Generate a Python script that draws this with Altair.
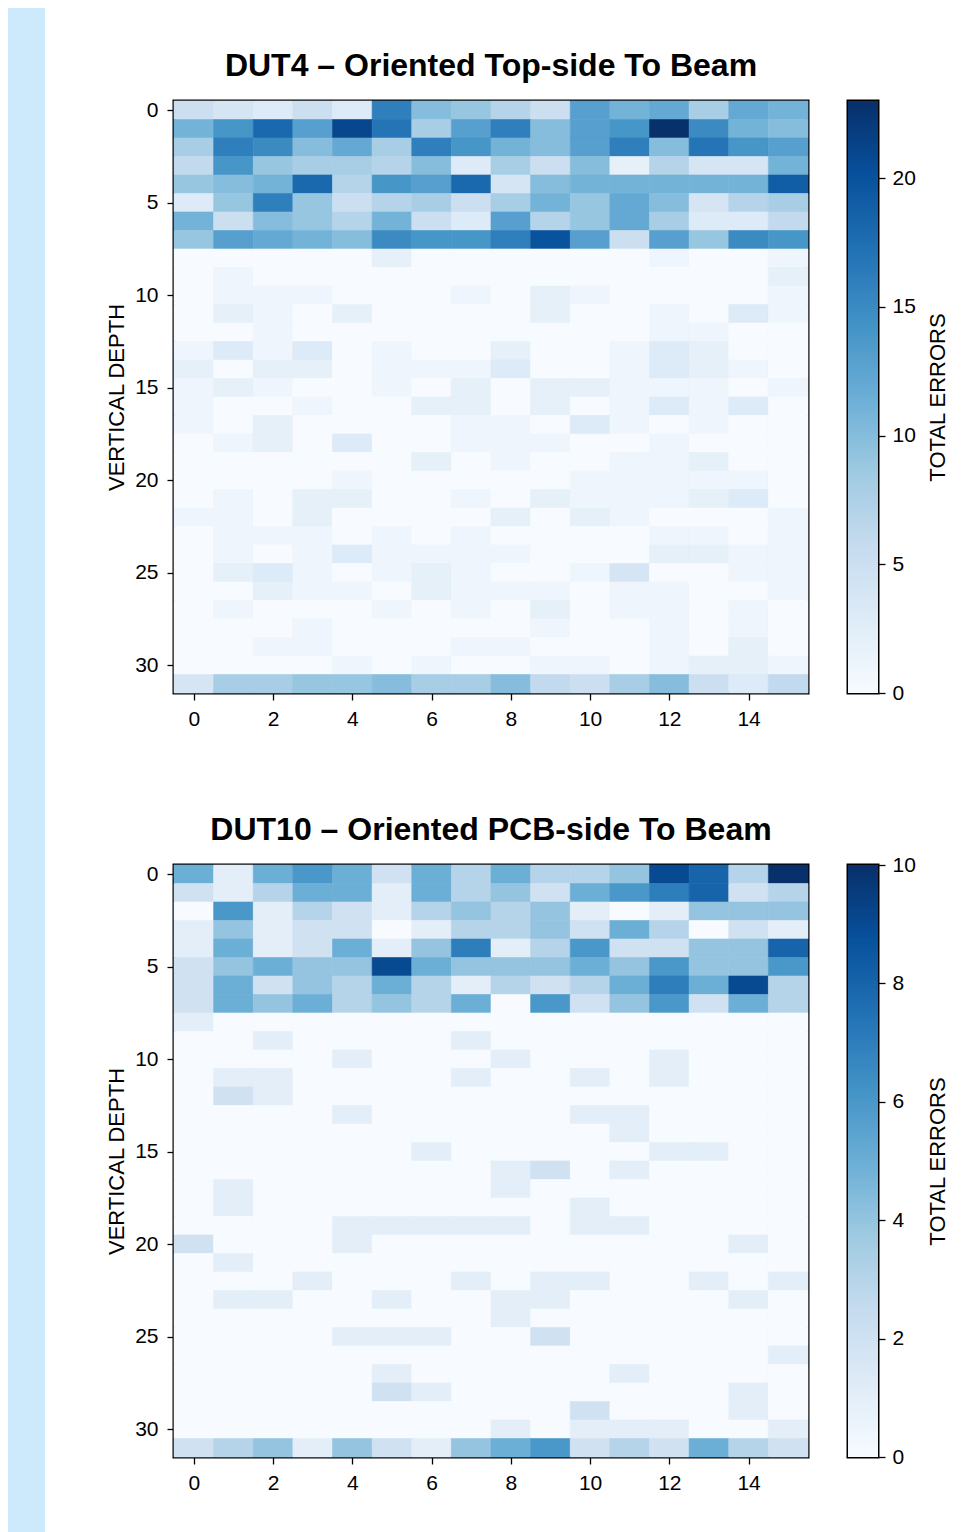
import altair as alt
import numpy as np
import pandas as pd

# ---------------- data ----------------
x_ticks = [0, 2, 4, 6, 8, 10, 12, 14]
y_ticks = [0, 5, 10, 15, 20, 25, 30]

dut4_title = "DUT4 \u2013 Oriented Top-side To Beam"
dut4_vmax = 23
dut4_cbar_ticks = [0, 5, 10, 15, 20]
dut4_errors = [
    [5, 4, 3, 5, 3, 16, 10, 9, 7, 5, 13, 11, 12, 8, 12, 11],
    [11, 14, 18, 13, 21, 17, 8, 13, 16, 10, 13, 14, 23, 15, 11, 10],
    [8, 16, 15, 10, 12, 8, 16, 14, 11, 10, 13, 16, 10, 17, 14, 13],
    [6, 14, 9, 8, 8, 7, 10, 3, 8, 5, 10, 2, 7, 4, 4, 11],
    [9, 10, 11, 18, 7, 14, 13, 18, 4, 10, 11, 11, 11, 11, 11, 19],
    [3, 9, 16, 9, 5, 7, 8, 5, 8, 11, 9, 12, 10, 4, 7, 8],
    [11, 5, 10, 9, 7, 11, 5, 3, 13, 7, 9, 12, 8, 3, 3, 6],
    [9, 13, 12, 11, 10, 15, 14, 14, 16, 20, 13, 5, 13, 9, 15, 14],
    [0, 0, 0, 0, 0, 2, 0, 0, 0, 0, 0, 0, 1, 0, 0, 1],
    [0, 1, 0, 0, 0, 0, 0, 0, 0, 0, 0, 0, 0, 0, 0, 2],
    [0, 1, 1, 1, 0, 0, 0, 1, 0, 2, 1, 0, 0, 0, 0, 1],
    [0, 2, 1, 0, 2, 0, 0, 0, 0, 2, 0, 0, 1, 0, 3, 1],
    [0, 0, 1, 0, 0, 0, 0, 0, 0, 0, 0, 0, 1, 1, 0, 0],
    [1, 3, 1, 3, 0, 1, 0, 0, 2, 0, 0, 1, 3, 2, 0, 0],
    [2, 0, 2, 2, 0, 1, 1, 1, 3, 0, 0, 1, 3, 2, 1, 0],
    [1, 2, 1, 0, 0, 1, 0, 2, 0, 2, 2, 1, 1, 1, 0, 1],
    [1, 0, 0, 1, 0, 0, 2, 2, 0, 2, 0, 1, 3, 1, 3, 0],
    [1, 0, 2, 0, 0, 0, 0, 1, 1, 0, 3, 1, 0, 1, 0, 0],
    [0, 1, 2, 0, 3, 0, 0, 1, 1, 1, 0, 0, 1, 0, 0, 0],
    [0, 0, 0, 0, 0, 0, 2, 0, 1, 0, 0, 1, 1, 2, 0, 0],
    [0, 0, 0, 0, 1, 0, 0, 0, 0, 0, 1, 1, 1, 1, 1, 0],
    [0, 1, 0, 2, 2, 0, 0, 1, 0, 2, 1, 1, 1, 2, 3, 0],
    [1, 1, 0, 2, 0, 0, 0, 0, 2, 0, 2, 1, 0, 0, 0, 1],
    [0, 1, 1, 1, 0, 1, 0, 1, 0, 0, 0, 0, 1, 1, 0, 1],
    [0, 1, 0, 1, 3, 1, 1, 1, 1, 0, 0, 0, 2, 2, 1, 1],
    [0, 2, 3, 1, 0, 1, 2, 1, 0, 0, 1, 4, 0, 0, 1, 1],
    [0, 0, 2, 1, 1, 0, 2, 1, 1, 1, 0, 1, 1, 0, 0, 1],
    [0, 1, 0, 0, 0, 1, 0, 1, 0, 2, 0, 1, 1, 0, 1, 0],
    [0, 0, 0, 1, 0, 0, 0, 0, 0, 1, 0, 0, 1, 0, 1, 0],
    [0, 0, 1, 1, 0, 0, 0, 1, 1, 0, 0, 0, 1, 0, 2, 0],
    [0, 0, 0, 0, 1, 0, 1, 0, 0, 1, 1, 0, 1, 2, 2, 1],
    [4, 8, 8, 9, 9, 10, 8, 8, 10, 6, 5, 8, 10, 5, 3, 6],
]

dut10_title = "DUT10 \u2013 Oriented PCB-side To Beam"
dut10_vmax = 10
dut10_cbar_ticks = [0, 2, 4, 6, 8, 10]
dut10_errors = [
    [5, 1, 5, 6, 5, 2, 5, 3, 5, 3, 3, 4, 9, 8, 3, 10],
    [2, 1, 3, 5, 5, 1, 5, 3, 4, 2, 5, 6, 7, 8, 2, 3],
    [0, 6, 1, 3, 2, 1, 3, 4, 3, 4, 1, 0, 1, 4, 4, 4],
    [1, 4, 1, 2, 2, 0, 1, 3, 3, 4, 2, 5, 3, 0, 2, 1],
    [1, 5, 1, 2, 5, 1, 4, 7, 1, 3, 6, 2, 2, 4, 4, 8],
    [2, 4, 5, 4, 4, 9, 5, 4, 4, 4, 5, 4, 6, 4, 4, 6],
    [2, 5, 2, 4, 3, 5, 3, 1, 3, 2, 3, 5, 7, 5, 9, 3],
    [2, 5, 4, 5, 3, 4, 3, 5, 0, 6, 2, 4, 6, 2, 5, 3],
    [1, 0, 0, 0, 0, 0, 0, 0, 0, 0, 0, 0, 0, 0, 0, 0],
    [0, 0, 1, 0, 0, 0, 0, 1, 0, 0, 0, 0, 0, 0, 0, 0],
    [0, 0, 0, 0, 1, 0, 0, 0, 1, 0, 0, 0, 1, 0, 0, 0],
    [0, 1, 1, 0, 0, 0, 0, 1, 0, 0, 1, 0, 1, 0, 0, 0],
    [0, 2, 1, 0, 0, 0, 0, 0, 0, 0, 0, 0, 0, 0, 0, 0],
    [0, 0, 0, 0, 1, 0, 0, 0, 0, 0, 1, 1, 0, 0, 0, 0],
    [0, 0, 0, 0, 0, 0, 0, 0, 0, 0, 0, 1, 0, 0, 0, 0],
    [0, 0, 0, 0, 0, 0, 1, 0, 0, 0, 0, 0, 1, 1, 0, 0],
    [0, 0, 0, 0, 0, 0, 0, 0, 1, 2, 0, 1, 0, 0, 0, 0],
    [0, 1, 0, 0, 0, 0, 0, 0, 1, 0, 0, 0, 0, 0, 0, 0],
    [0, 1, 0, 0, 0, 0, 0, 0, 0, 0, 1, 0, 0, 0, 0, 0],
    [0, 0, 0, 0, 1, 1, 1, 1, 1, 0, 1, 1, 0, 0, 0, 0],
    [2, 0, 0, 0, 1, 0, 0, 0, 0, 0, 0, 0, 0, 0, 1, 0],
    [0, 1, 0, 0, 0, 0, 0, 0, 0, 0, 0, 0, 0, 0, 0, 0],
    [0, 0, 0, 1, 0, 0, 0, 1, 0, 1, 1, 0, 0, 1, 0, 1],
    [0, 1, 1, 0, 0, 1, 0, 0, 1, 1, 0, 0, 0, 0, 1, 0],
    [0, 0, 0, 0, 0, 0, 0, 0, 1, 0, 0, 0, 0, 0, 0, 0],
    [0, 0, 0, 0, 1, 1, 1, 0, 0, 2, 0, 0, 0, 0, 0, 0],
    [0, 0, 0, 0, 0, 0, 0, 0, 0, 0, 0, 0, 0, 0, 0, 1],
    [0, 0, 0, 0, 0, 1, 0, 0, 0, 0, 0, 1, 0, 0, 0, 0],
    [0, 0, 0, 0, 0, 2, 1, 0, 0, 0, 0, 0, 0, 0, 1, 0],
    [0, 0, 0, 0, 0, 0, 0, 0, 0, 0, 2, 0, 0, 0, 1, 0],
    [0, 0, 0, 0, 0, 0, 0, 0, 1, 0, 1, 1, 1, 0, 0, 1],
    [2, 3, 4, 1, 4, 2, 1, 4, 5, 6, 2, 3, 2, 5, 3, 2],
]

# matplotlib "Blues" colormap stops
blues_stops = ["#f7fbff", "#deebf7", "#c6dbef", "#9ecae1", "#6baed6",
               "#4292c6", "#2171b5", "#08519c", "#08306b"]

FONT = "Liberation Sans"
PLOT_W, PLOT_H = 634, 592
CBAR_W = 30
PAGE_BLUE = "#cdeafd"
NO_FRAME = alt.ViewBackground(stroke="transparent", strokeWidth=0)


def color_scale(vmax):
    dom = [vmax * i / (len(blues_stops) - 1) for i in range(len(blues_stops))]
    return alt.Scale(domain=dom, range=blues_stops, interpolate="rgb", clamp=True)


def panel(matrix, vmax, title, cbar_ticks):
    recs = []
    for r, row in enumerate(matrix):
        for c, v in enumerate(row):
            recs.append({"col": c, "row": r, "errors": v,
                         "x0": c - 0.5, "x1": c + 0.5, "y0": r - 0.5, "y1": r + 0.5})
    df = pd.DataFrame(recs)
    sc = color_scale(vmax)
    heat = alt.Chart(df, title=alt.Title(
        title, font=FONT, fontSize=32, fontWeight="bold", color="black",
        anchor="middle", frame="group", offset=16)
    ).mark_rect(strokeWidth=0.6).encode(
        x=alt.X("x0:Q", scale=alt.Scale(domain=[-0.5, 15.5], nice=False, zero=False),
                axis=alt.Axis(values=x_ticks, title=None, labelPadding=8)),
        x2="x1:Q",
        y=alt.Y("y0:Q", scale=alt.Scale(domain=[-0.5, 31.5], nice=False, zero=False, reverse=True),
                axis=alt.Axis(values=y_ticks, title="VERTICAL DEPTH", labelPadding=9, titlePadding=6)),
        y2="y1:Q",
        color=alt.Color("errors:Q", scale=sc, legend=None),
        stroke=alt.Stroke("errors:Q", scale=sc, legend=None),
        tooltip=["col:Q", "row:Q", "errors:Q"],
    ).properties(width=PLOT_W, height=PLOT_H)

    n = 300
    lo = np.linspace(0, vmax, n + 1)[:-1]
    step = vmax / n
    cb = pd.DataFrame({"lo": lo, "hi": np.minimum(lo + step * 1.8, vmax), "mid": lo + step / 2})
    cbar = alt.Chart(cb).mark_rect(clip=True).encode(
        x=alt.value(0), x2=alt.value(CBAR_W),
        y=alt.Y("lo:Q", scale=alt.Scale(domain=[0, vmax], nice=False, zero=False),
                axis=alt.Axis(orient="right", values=cbar_ticks, title="TOTAL ERRORS",
                              titleAngle=270, titleBaseline="top",
                              labelPadding=7, titlePadding=12)),
        y2="hi:Q",
        color=alt.Color("mid:Q", scale=sc, legend=None),
    ).properties(width=CBAR_W, height=PLOT_H)
    return alt.hconcat(heat, cbar, spacing=36)


panels = alt.vconcat(
    panel(dut4_errors, dut4_vmax, dut4_title, dut4_cbar_ticks),
    panel(dut10_errors, dut10_vmax, dut10_title, dut10_cbar_ticks),
    spacing=81,
).resolve_scale(color="independent", stroke="independent")

# empty spacer above the panels (white slide margin)
spacer = alt.Chart(pd.DataFrame({"k": [0]})).mark_text(text="").properties(
    width=10, height=20, view=NO_FRAME)

right = alt.vconcat(spacer, panels, spacing=20).resolve_scale(
    color="independent", stroke="independent")

# light-blue page strip on the left (slide background)
strip = alt.Chart(pd.DataFrame({"k": [0]})).mark_text(text="").properties(
    width=37, height=1524,
    view=alt.ViewBackground(fill=PAGE_BLUE, stroke="transparent", strokeWidth=0),
)

chart = alt.hconcat(strip, right, spacing=59).resolve_scale(
    color="independent", stroke="independent"
).properties(
    padding={"left": 0, "top": 0, "right": 10, "bottom": 0},
    background="white",
).configure_view(
    stroke="black", strokeWidth=3
).configure_axis(
    labelFont=FONT, labelFontSize=21, labelColor="black",
    titleFont=FONT, titleFontSize=22, titleFontWeight="normal", titleColor="black",
    tickColor="black", tickSize=7, tickWidth=1.3, domain=False, grid=False,
)

chart.save("out.html", embed_options={"renderer": "svg", "actions": False})
